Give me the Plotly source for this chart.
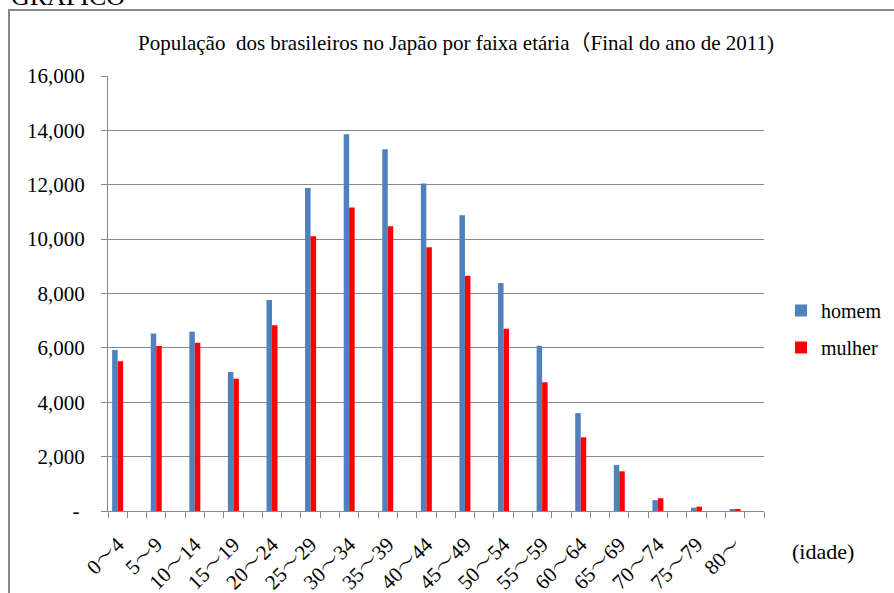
import plotly.graph_objects as go

# ---- data ----
age_groups = ["0～4", "5～9", "10～14", "15～19", "20～24", "25～29", "30～34",
              "35～39", "40～44", "45～49", "50～54", "55～59", "60～64",
              "65～69", "70～74", "75～79", "80～"]
homem = [5920, 6530, 6590, 5110, 7760, 11880, 13860, 13310, 12050, 10880,
         8390, 6080, 3600, 1690, 400, 120, 60]
mulher = [5510, 6070, 6190, 4860, 6830, 10110, 11160, 10470, 9700, 8650,
          6700, 4740, 2710, 1460, 470, 160, 50]
y_tickvals = [0, 2000, 4000, 6000, 8000, 10000, 12000, 14000, 16000]
y_ticktext = ["-\u00a0", "2,000", "4,000", "6,000", "8,000", "10,000",
              "12,000", "14,000", "16,000"]

title_text = "População\u00a0 dos brasileiros no Japão por faixa etária（Final do ano de 2011)"

# ---- layout geometry (pixels) ----
W, H = 894, 593
L, R, T, B = 108, 764, 76, 511
pw, ph = R - L, B - T


def px(x):
    return (x - L) / pw


def py(y):
    return (B - y) / ph


# each age group occupies one slot, followed by an empty slot
xpos = [2 * i for i in range(len(age_groups))]
nslots = 2 * len(age_groups)

GRAY = "#8a8a8a"
SERIF = "Liberation Serif, Noto Sans CJK JP, serif"
XFONT = "Liberation Serif, Noto Serif CJK JP, Noto Sans CJK JP, serif"

fig = go.Figure()
fig.add_trace(go.Bar(x=xpos, y=homem, name="homem", marker_color="#4F81BD",
                     marker_line_width=0, legendgroup="a"))
fig.add_trace(go.Bar(x=xpos, y=mulher, name="mulher", marker_color="#FF0000",
                     marker_line_width=0, legendgroup="b"))

fig.update_layout(
    width=W, height=H,
    margin=dict(l=L, r=W - R, t=T, b=H - B, autoexpand=False),
    paper_bgcolor="white", plot_bgcolor="white",
    barmode="group", bargap=0.715, bargroupgap=0,
    title=dict(text=title_text, x=px(456), xref="paper", xanchor="center",
               y=1 - 43 / H, yref="container", yanchor="middle",
               font=dict(family=SERIF, size=21, color="black")),
    legend=dict(x=px(781), y=py(291), xanchor="left", yanchor="top",
                font=dict(family=SERIF, size=20, color="black"),
                traceorder="grouped", tracegroupgap=8,
                bgcolor="rgba(0,0,0,0)", itemwidth=30),
    showlegend=True,
    font=dict(family=SERIF, color="black"),
)

fig.update_yaxes(
    range=[0, 16000], tickvals=y_tickvals, ticktext=y_ticktext,
    showgrid=True, gridcolor=GRAY, gridwidth=1,
    showline=True, linecolor=GRAY, linewidth=1,
    ticks="outside", ticklen=6, tickcolor=GRAY,
    ticklabelstandoff=12, automargin=False,
    tickfont=dict(family=SERIF, size=21, color="black"),
    zeroline=False, fixedrange=True,
)

fig.update_xaxes(
    range=[-0.5, nslots - 0.5], tickvals=xpos, ticktext=age_groups,
    tickangle=-45, ticks="", showgrid=False,
    showline=True, linecolor=GRAY, linewidth=1,
    tickfont=dict(family=XFONT, size=21, color="black"),
    ticklabelstandoff=12, automargin=False,
    minor=dict(tickvals=[k - 0.5 for k in range(nslots + 1)],
               ticks="outside", ticklen=6, tickcolor=GRAY, showgrid=False),
    zeroline=False, fixedrange=True,
)

# outer frame of the chart object
fig.add_shape(type="rect", xref="paper", yref="paper",
              x0=px(9), x1=px(905), y0=py(610), y1=py(10),
              line=dict(color=GRAY, width=2), fillcolor="rgba(0,0,0,0)",
              layer="below")

# partially visible heading above the frame
fig.add_annotation(text="GRÁFICO", xref="paper", yref="paper",
                   x=px(9), y=py(13), xanchor="left", yanchor="bottom",
                   showarrow=False,
                   font=dict(family="Liberation Serif, serif", size=26,
                             color="black"))

# axis unit note
fig.add_annotation(text="(idade)", xref="paper", yref="paper",
                   x=px(823), y=py(551), xanchor="center", yanchor="middle",
                   showarrow=False,
                   font=dict(family=SERIF, size=22, color="black"))

fig.write_html("out.html")
